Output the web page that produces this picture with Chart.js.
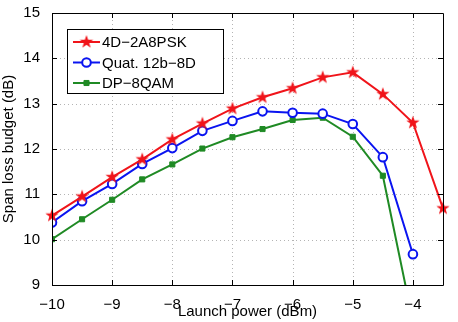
<!DOCTYPE html>
<html>
<head>
<meta charset="utf-8">
<script src="https://cdn.jsdelivr.net/npm/chart.js@4/dist/chart.umd.min.js"></script>
<style>
  html, body { margin: 0; padding: 0; background: #fff; }
  #wrap { width: 458px; height: 322px; }
</style>
</head>
<body>
<div id="wrap"><canvas id="main-chart" width="458" height="322"></canvas></div>
<script>
// launch power (dBm)
var power = [-10, -9.5, -9, -8.5, -8, -7.5, -7, -6.5, -6, -5.5, -5, -4.5, -4, -3.5];

// span loss budget (dB) per format
var psk4d = [10.53, 10.95, 11.38, 11.77, 12.21, 12.56, 12.89, 13.14, 13.34, 13.58, 13.69, 13.21, 12.58, 10.69];
var quat12b = [10.38, 10.85, 11.23, 11.67, 12.02, 12.40, 12.62, 12.83, 12.80, 12.78, 12.55, 11.82, 9.68];
var dp8qam = [10.01, 10.45, 10.88, 11.33, 11.66, 12.01, 12.26, 12.44, 12.64, 12.69, 12.27, 11.41, 8.2];

var seriesNames = ['4D\u22122A8PSK', 'Quat. 12b\u22128D', 'DP\u22128QAM'];
var xTicks = [-10, -9, -8, -7, -6, -5, -4];
var yTicks = [9, 10, 11, 12, 13, 14, 15];

var FONT = '"Liberation Sans", Arial, Helvetica, sans-serif';

function pairs(ys) {
    return ys.map(function (y, i) { return { x: power[i], y: y }; });
}

// filled five-point star marker
function starMarker(color, r) {
    var c = document.createElement('canvas');
    var size = Math.ceil(r * 2 + 2);
    c.width = size;
    c.height = size;
    var g = c.getContext('2d');
    var cx = size / 2, cy = size / 2;
    g.beginPath();
    for (var i = 0; i < 10; i++) {
        var rad = i % 2 === 0 ? r : r * 0.4;
        var a = -Math.PI / 2 + i * Math.PI / 5;
        var px = cx + rad * Math.cos(a), py = cy + rad * Math.sin(a);
        if (i === 0) g.moveTo(px, py); else g.lineTo(px, py);
    }
    g.closePath();
    g.fillStyle = color;
    g.fill();
    return c;
}

var RED = '#f0141a', BLUE = '#0a14f0', GREEN = '#1f8a24';
var star = starMarker(RED, 7);

function minus(v) {
    return v < 0 ? '\u2212' + Math.abs(v) : String(v);
}

// dotted grid under the lines
var gridPlugin = {
    id: 'dotGrid',
    beforeDatasetsDraw: function (chart) {
        var ctx = chart.ctx, a = chart.chartArea;
        var xs = chart.scales.x, ys = chart.scales.y;
        ctx.save();
        ctx.strokeStyle = '#b4b4b4';
        ctx.lineWidth = 1;
        ctx.setLineDash([1, 3]);
        ctx.beginPath();
        xTicks.forEach(function (v) {
            var px = Math.round(xs.getPixelForValue(v)) + 0.5;
            ctx.moveTo(px, a.bottom); ctx.lineTo(px, a.top);
        });
        yTicks.forEach(function (v) {
            var py = Math.round(ys.getPixelForValue(v)) + 0.5;
            ctx.moveTo(a.left, py); ctx.lineTo(a.right, py);
        });
        ctx.stroke();
        ctx.restore();
    }
};

// box + inward ticks on all four sides
var framePlugin = {
    id: 'frame',
    afterDatasetsDraw: function (chart) {
        var ctx = chart.ctx, a = chart.chartArea;
        var xs = chart.scales.x, ys = chart.scales.y;
        ctx.save();
        ctx.strokeStyle = '#000';
        ctx.lineWidth = 1;
        ctx.beginPath();
        ctx.rect(Math.round(a.left) + 0.5, Math.round(a.top) + 0.5,
                 Math.round(a.right - a.left), Math.round(a.bottom - a.top));
        xTicks.forEach(function (v) {
            var px = Math.round(xs.getPixelForValue(v)) + 0.5;
            ctx.moveTo(px, a.bottom); ctx.lineTo(px, a.bottom - 5);
            ctx.moveTo(px, a.top); ctx.lineTo(px, a.top + 5);
        });
        yTicks.forEach(function (v) {
            var py = Math.round(ys.getPixelForValue(v)) + 0.5;
            ctx.moveTo(a.left, py); ctx.lineTo(a.left + 5, py);
            ctx.moveTo(a.right, py); ctx.lineTo(a.right - 5, py);
        });
        ctx.stroke();
        ctx.restore();
    }
};

// legend box in the upper left of the plot
var legendPlugin = {
    id: 'boxLegend',
    afterDraw: function (chart) {
        var ctx = chart.ctx;
        var bx = 67, by = 29, bw = 156, bh = 64;
        ctx.save();
        ctx.fillStyle = '#fff';
        ctx.fillRect(bx, by, bw, bh);
        ctx.strokeStyle = '#000';
        ctx.lineWidth = 1;
        ctx.strokeRect(bx + 0.5, by + 0.5, bw, bh);
        chart.data.datasets.forEach(function (ds, i) {
            var y = by + 13 + i * 20.5;
            ctx.strokeStyle = ds.borderColor;
            ctx.lineWidth = 2;
            ctx.beginPath();
            ctx.moveTo(bx + 6, y);
            ctx.lineTo(bx + 33, y);
            ctx.stroke();
            ctx.fillStyle = ds.pointBackgroundColor;
            ctx.strokeStyle = ds.pointBorderColor;
            ctx.lineWidth = ds.pointBorderWidth;
            Chart.helpers.drawPoint(ctx, {
                pointStyle: ds.pointStyle,
                radius: ds.pointRadius,
                borderWidth: ds.pointBorderWidth,
                rotation: 0
            }, bx + 19.5, y);
            ctx.fillStyle = '#000';
            ctx.font = '15px ' + FONT;
            ctx.textBaseline = 'middle';
            ctx.fillText(ds.label, bx + 35, y + 1);
        });
        ctx.restore();
    }
};

new Chart(document.getElementById('main-chart').getContext('2d'), {
    type: 'line',
    data: {
        datasets: [{
            label: seriesNames[0],
            data: pairs(psk4d),
            borderColor: RED,
            borderWidth: 2,
            pointStyle: star,
            pointRadius: 7,
            pointBackgroundColor: RED,
            pointBorderColor: RED,
            pointBorderWidth: 0,
            clip: false
        }, {
            label: seriesNames[1],
            data: pairs(quat12b),
            borderColor: BLUE,
            borderWidth: 2,
            pointStyle: 'circle',
            pointRadius: 4.3,
            pointBackgroundColor: '#fff',
            pointBorderColor: BLUE,
            pointBorderWidth: 2
        }, {
            label: seriesNames[2],
            data: pairs(dp8qam),
            borderColor: GREEN,
            borderWidth: 2,
            pointStyle: 'rect',
            pointRadius: 3.6,
            pointBackgroundColor: GREEN,
            pointBorderColor: GREEN,
            pointBorderWidth: 1
        }]
    },
    options: {
        responsive: false,
        animation: false,
        devicePixelRatio: 1,
        layout: { padding: { top: 13, right: 15, left: 0, bottom: 0 } },
        plugins: { legend: { display: false }, tooltip: { enabled: false } },
        elements: { line: { tension: 0 } },
        scales: {
            x: {
                type: 'linear',
                min: -10,
                max: -3.5,
                afterFit: function (s) { s.height = 37; },
                afterBuildTicks: function (s) { s.ticks = xTicks.map(function (v) { return { value: v }; }); },
                ticks: {
                    color: '#000',
                    padding: 3,
                    font: { family: FONT, size: 15 },
                    callback: function (v) { return minus(v); }
                },
                grid: { display: false },
                border: { display: false },
                title: {
                    display: true,
                    text: 'Launch power (dBm)',
                    color: '#000',
                    font: { family: FONT, size: 15 },
                    padding: { top: 0, bottom: 1 }
                }
            },
            y: {
                min: 9,
                max: 15,
                afterFit: function (s) { s.width = 52; },
                afterBuildTicks: function (s) { s.ticks = yTicks.map(function (v) { return { value: v }; }); },
                ticks: {
                    color: '#000',
                    padding: 4,
                    font: { family: FONT, size: 15 },
                    callback: function (v) { return minus(v); }
                },
                grid: { display: false },
                border: { display: false },
                title: {
                    display: true,
                    text: 'Span loss budget (dB)',
                    color: '#000',
                    font: { family: FONT, size: 15 },
                    padding: { top: 0, bottom: 2 }
                }
            }
        }
    },
    plugins: [gridPlugin, framePlugin, legendPlugin]
});
</script>
</body>
</html>
